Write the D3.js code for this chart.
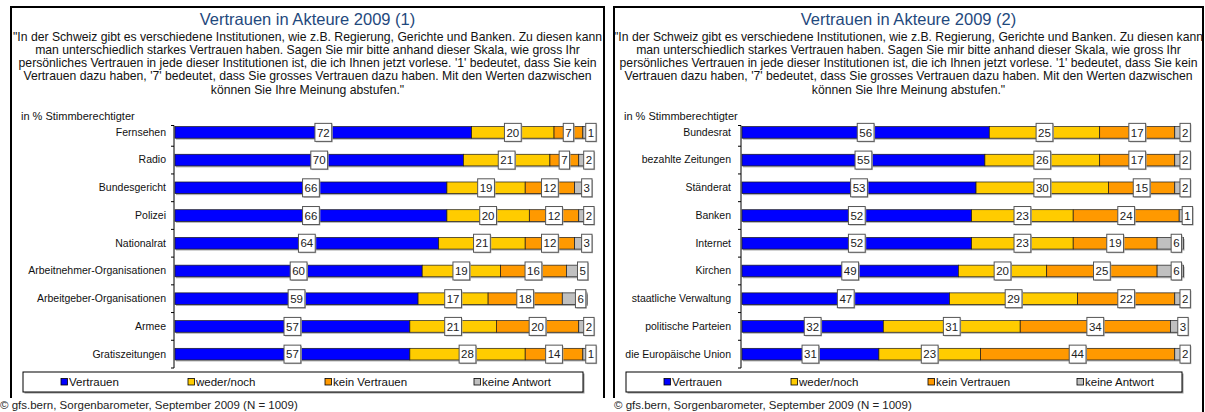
<!DOCTYPE html>
<html>
<head>
<meta charset="utf-8">
<script src="https://cdn.jsdelivr.net/npm/d3@7"></script>
<style>
  body { margin: 0; background: #fff; }
  text { font-family: "Liberation Sans", Arial, sans-serif; }
</style>
</head>
<body>
<div id="chart"></div>
<script>
// ---- data ----
const catsLeft = ["Fernsehen", "Radio", "Bundesgericht", "Polizei", "Nationalrat",
  "Arbeitnehmer-Organisationen", "Arbeitgeber-Organisationen", "Armee", "Gratiszeitungen"];
const vertrauenLeft = [72, 70, 66, 66, 64, 60, 59, 57, 57];
const wederLeft     = [20, 21, 19, 20, 21, 19, 17, 21, 28];
const keinLeft      = [7, 7, 12, 12, 12, 16, 18, 20, 14];
const antwortLeft   = [1, 2, 3, 2, 3, 5, 6, 2, 1];

const catsRight = ["Bundesrat", "bezahlte Zeitungen", "Ständerat", "Banken", "Internet",
  "Kirchen", "staatliche Verwaltung", "politische Parteien", "die Europäische Union"];
const vertrauenRight = [56, 55, 53, 52, 52, 49, 47, 32, 31];
const wederRight     = [25, 26, 30, 23, 23, 20, 29, 31, 23];
const keinRight      = [17, 17, 15, 24, 19, 25, 22, 34, 44];
const antwortRight   = [2, 2, 2, 1, 6, 6, 2, 3, 2];

const seriesNames = ["Vertrauen", "weder/noch", "kein Vertrauen", "keine Antwort"];
const seriesColors = ["#0000ff", "#ffcc00", "#ff9900", "#c0c0c0"];

const questionLines = [
  "\"In der Schweiz gibt es verschiedene Institutionen, wie z.B. Regierung, Gerichte und Banken. Zu diesen kann",
  "man unterschiedlich starkes Vertrauen haben. Sagen Sie mir bitte anhand dieser Skala, wie gross Ihr",
  "persönliches Vertrauen in jede dieser Institutionen ist, die ich Ihnen jetzt vorlese. '1' bedeutet, dass Sie kein",
  "Vertrauen dazu haben, '7' bedeutet, dass Sie grosses Vertrauen dazu haben. Mit den Werten dazwischen",
  "können Sie Ihre Meinung abstufen.\""
];
const unitLabel = "in % Stimmberechtigter";
const sourceText = "© gfs.bern, Sorgenbarometer, September 2009 (N = 1009)";

const width = 1205, height = 412;

const svg = d3.select("#chart").append("svg")
  .attr("width", width)
  .attr("height", height);

function drawPanel(p) {
  const g = svg.append("g");

  // panel frame
  g.append("rect")
    .attr("x", p.x0).attr("y", 7)
    .attr("width", p.x1 - p.x0).attr("height", height + 10)
    .attr("fill", "#fff").attr("stroke", "#000").attr("stroke-width", 2);

  const cx = (p.x0 + p.x1) / 2;

  g.append("text")
    .attr("x", cx).attr("y", 25)
    .attr("text-anchor", "middle")
    .style("font-size", "16.5px")
    .style("fill", "#1f497d")
    .text(p.title);

  g.selectAll(".q").data(questionLines).join("text")
    .attr("x", cx)
    .attr("y", (d, i) => 40.5 + i * 13.3)
    .attr("text-anchor", "middle")
    .style("font-size", "12.2px")
    .style("fill", "#111")
    .text(d => d);

  g.append("text")
    .attr("x", p.x0 + 10).attr("y", 120)
    .style("font-size", "11px")
    .style("fill", "#111")
    .text(unitLabel);

  // scales
  const x = d3.scaleLinear().domain([0, 100]).range([p.axisX + 1, p.fullX]);
  const y = d3.scaleBand()
    .domain(p.cats)
    .range([118.5, 368])
    .paddingInner(0.58)
    .paddingOuter(0.29);

  const table = p.cats.map((c, i) => ({
    cat: c, v: p.vals[0][i], w: p.vals[1][i], k: p.vals[2][i], a: p.vals[3][i]
  }));
  const keys = ["v", "w", "k", "a"];
  const stacked = d3.stack().keys(keys)(table);

  // bar shadows
  g.selectAll(".shadow").data(table).join("rect")
    .attr("x", x(0) + 1)
    .attr("y", d => y(d.cat) + 1.5)
    .attr("width", x(100) - x(0))
    .attr("height", y.bandwidth())
    .attr("fill", "#b0b0b0");

  g.selectAll(".layer").data(stacked).join("g")
    .attr("fill", (d, i) => seriesColors[i])
    .selectAll("rect").data(d => d).join("rect")
    .attr("x", d => x(d[0]))
    .attr("y", d => y(d.data.cat))
    .attr("width", d => x(d[1]) - x(d[0]))
    .attr("height", y.bandwidth())
    .attr("stroke", "#1a1a1a")
    .attr("stroke-width", 0.7);

  // category axis
  const step = y.step();
  const top = y.range()[0];
  const axisG = g.append("g")
    .attr("transform", `translate(${p.axisX},0)`)
    .call(d3.axisLeft(y).tickSize(0).tickPadding(p.pad));
  axisG.select(".domain").remove();
  axisG.selectAll("text")
    .style("font-size", "10.5px")
    .style("fill", "#111")
    .style("font-family", "'Liberation Sans', Arial, sans-serif");

  const bounds = d3.range(1, p.cats.length + 1).map(k => top + k * step);
  g.append("line")
    .attr("x1", p.axisX).attr("x2", p.axisX)
    .attr("y1", 125.5).attr("y2", bounds[bounds.length - 1])
    .attr("stroke", "#000").attr("stroke-width", 1);
  g.selectAll(".tk").data([125.5].concat(bounds)).join("line")
    .attr("x1", p.axisX - 3).attr("x2", p.axisX)
    .attr("y1", d => d).attr("y2", d => d)
    .attr("stroke", "#000").attr("stroke-width", 1);

  // value labels
  stacked.forEach((layer, si) => {
    layer.forEach(d => {
      const val = d[1] - d[0];
      let lx = (x(d[0]) + x(d[1])) / 2;
      if (si === keys.length - 1) lx += 6;
      const ly = y(d.data.cat) + y.bandwidth() / 2;
      const lg = g.append("g");
      const sh = lg.append("rect");
      const box = lg.append("rect");
      const t = lg.append("text")
        .attr("x", lx).attr("y", ly)
        .attr("dy", "0.36em")
        .attr("text-anchor", "middle")
        .style("font-size", "11.5px")
        .style("fill", "#222")
        .text(val);
      const tw = t.node().getComputedTextLength() + 4;
      sh.attr("x", lx - tw / 2 + 1).attr("y", ly - 9 + 1)
        .attr("width", tw).attr("height", 18).attr("fill", "#b0b0b0");
      box.attr("x", lx - tw / 2).attr("y", ly - 9)
        .attr("width", tw).attr("height", 18)
        .attr("fill", "#fff").attr("stroke", "#555").attr("stroke-width", 1);
    });
  });

  // legend
  const lx0 = p.x0 + 12, lx1 = p.x1 - 21;
  g.append("rect")
    .attr("x", lx0 + 1.5).attr("y", 373.5)
    .attr("width", lx1 - lx0).attr("height", 20)
    .attr("fill", "#999");
  g.append("rect")
    .attr("x", lx0).attr("y", 372)
    .attr("width", lx1 - lx0).attr("height", 20)
    .attr("fill", "#fff").attr("stroke", "#000").attr("stroke-width", 1);
  const legOffsets = [38, 165, 302, 451];
  const leg = g.selectAll(".leg").data(seriesNames).join("g")
    .attr("transform", (d, i) => `translate(${lx0 + legOffsets[i]},382)`);
  leg.append("rect")
    .attr("x", 0).attr("y", -3.5)
    .attr("width", 6.5).attr("height", 6.5)
    .attr("fill", (d, i) => seriesColors[i])
    .attr("stroke", "#000").attr("stroke-width", 0.8);
  leg.append("text")
    .attr("x", 8).attr("dy", "0.36em")
    .style("font-size", "11.5px")
    .style("fill", "#111")
    .text(d => d);

  // source line
  g.append("rect")
    .attr("x", p.x0 - 11).attr("y", 398)
    .attr("width", 320).attr("height", 16)
    .attr("fill", "#fff");
  g.append("text")
    .attr("x", p.srcX).attr("y", 409)
    .style("font-size", "11.5px")
    .style("fill", "#222")
    .text(sourceText);
}

drawPanel({
  x0: 11, x1: 604, title: "Vertrauen in Akteure 2009 (1)",
  axisX: 174, fullX: 587, pad: 8, srcX: 0,
  cats: catsLeft, vals: [vertrauenLeft, wederLeft, keinLeft, antwortLeft]
});
drawPanel({
  x0: 614, x1: 1203, title: "Vertrauen in Akteure 2009 (2)",
  axisX: 741, fullX: 1183.6, pad: 10, srcX: 614,
  cats: catsRight, vals: [vertrauenRight, wederRight, keinRight, antwortRight]
});
</script>
</body>
</html>
